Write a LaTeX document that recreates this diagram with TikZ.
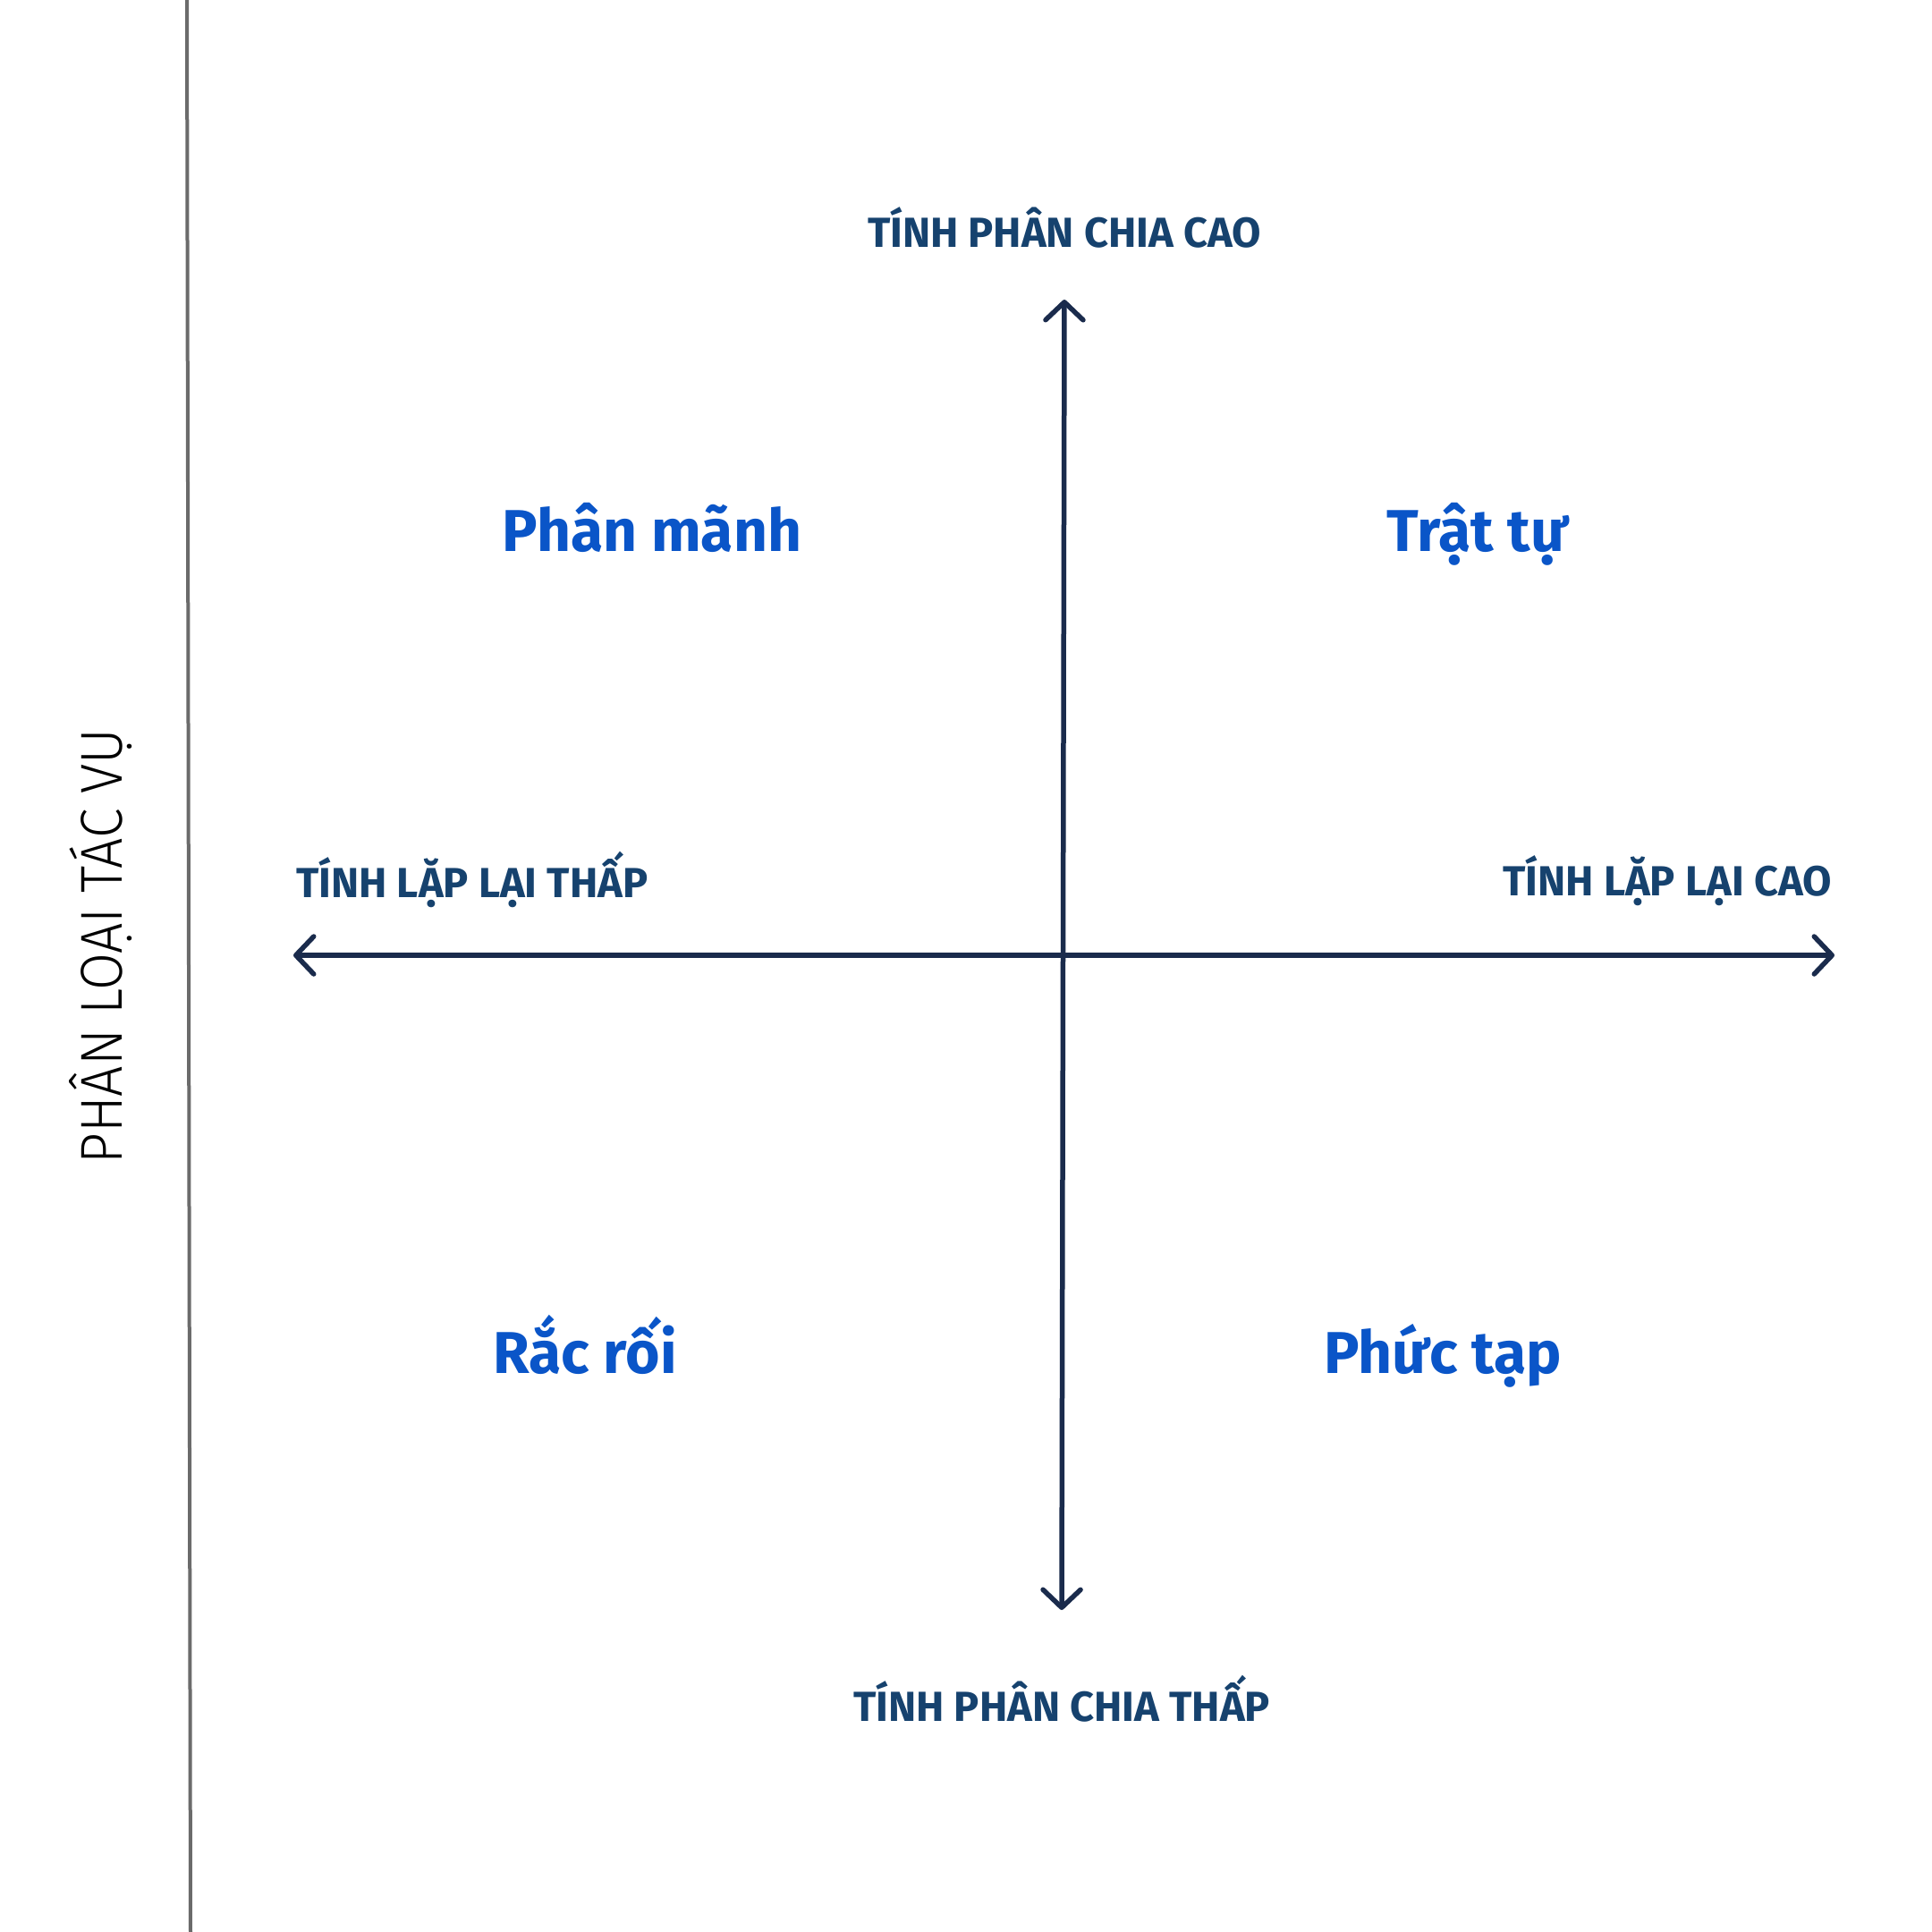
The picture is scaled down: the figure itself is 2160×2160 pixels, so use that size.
\documentclass[tikz,border=0pt]{standalone}
\usepackage{fontspec}
\setmainfont{Fira Sans}
\newfontfamily\lightf{Fira Sans Light}
\usetikzlibrary{arrows.meta}
\definecolor{axislbl}{HTML}{16426E}
\definecolor{quad}{HTML}{0A55C8}
\definecolor{axisc}{HTML}{1A2B4C}
\definecolor{sidegray}{HTML}{6B6B6B}
\tikzset{
  axislabel/.style={text=axislbl, font=\fontsize{47}{50}\selectfont\bfseries, inner sep=0pt},
  quadlabel/.style={text=quad, font=\fontsize{66}{70}\selectfont\bfseries, inner sep=0pt, anchor=base},
  sidelabel/.style={text=black, font=\fontsize{66}{70}\lightf, inner sep=0pt, rotate=90},
  axisline/.style={draw=axisc, line width=5.5pt, line cap=round,
    {Straight Barb[length=20pt,width=42pt,line width=5.5pt,round]}-{Straight Barb[length=20pt,width=42pt,line width=5.5pt,round]}},
  sideline/.style={draw=sidegray, line width=4pt}
}
\begin{document}
\begin{tikzpicture}[x=1pt,y=-1pt]
\useasboundingbox (0,0) rectangle (2160,2160);
\coordinate (gtop) at (209,0);
\coordinate (gbot) at (213,2160);
\draw[sideline] (gtop) -- (gbot);
\coordinate (vtop) at (1190,335);
\coordinate (vbot) at (1187,1800);
\coordinate (hl) at (328,1068);
\coordinate (hr) at (2051,1068);
\draw[axisline] (vbot) -- (vtop);
\draw[axisline] (hl) -- (hr);
\node[axislabel] (top) at (1190,254) {TÍNH PHÂN CHIA CAO};
\node[axislabel] (bot) at (1187,1899) {TÍNH PHÂN CHIA THẤP};
\node[axislabel, anchor=west] (left) at (331,983) {TÍNH LẶP LẠI THẤP};
\node[axislabel, anchor=east] (right) at (2048,985) {TÍNH LẶP LẠI CAO};
\node[quadlabel] (q1) at (729,616) {Phân mãnh};
\node[quadlabel] (q2) at (1652,616) {Trật tự};
\node[quadlabel] (q3) at (654,1535) {Rắc rối};
\node[quadlabel] (q4) at (1613,1535) {Phức tạp};
\node[sidelabel] (side) at (113,1058) {\scalebox{0.92}[1]{PHÂN LOẠI TÁC VỤ}};
\end{tikzpicture}
\end{document}
